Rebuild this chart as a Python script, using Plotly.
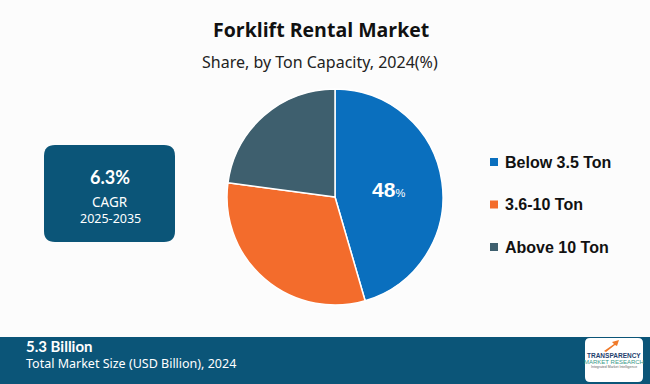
import plotly.graph_objects as go

# ---- data ----
segments = ["Below 3.5 Ton", "3.6-10 Ton", "Above 10 Ton"]
shares = [45.5, 31.6, 22.9]          # slice sizes as drawn
shown_label = ["48", "", ""]          # label printed on the chart
colors = ["#0A6FBE", "#F36C2C", "#3E5F6E"]
title = "Forklift Rental Market"
subtitle = "Share, by Ton Capacity, 2024(%)"
cagr_value = "6.3%"
cagr_period = "2025-2035"
market_size = "5.3 Billion"
market_caption = "Total Market Size (USD Billion), 2024"

W, H = 650, 384
NAVY = "#0B5578"


def px(x):
    return x / W


def py(y):
    return 1 - y / H


def rounded(x0, y0, x1, y1, r):
    pts = [
        f"M {px(x0 + r)},{py(y0)}",
        f"L {px(x1 - r)},{py(y0)}",
        f"Q {px(x1)},{py(y0)} {px(x1)},{py(y0 + r)}",
        f"L {px(x1)},{py(y1 - r)}",
        f"Q {px(x1)},{py(y1)} {px(x1 - r)},{py(y1)}",
        f"L {px(x0 + r)},{py(y1)}",
        f"Q {px(x0)},{py(y1)} {px(x0)},{py(y1 - r)}",
        f"L {px(x0)},{py(y0 + r)}",
        f"Q {px(x0)},{py(y0)} {px(x0 + r)},{py(y0)}",
        "Z",
    ]
    return " ".join(pts)


def note(text, x, y, size, family="Noto Sans", color="white", xanchor="center"):
    return dict(text=text, x=px(x), y=py(y), xref="paper", yref="paper",
                xanchor=xanchor, yanchor="middle", showarrow=False,
                font=dict(family=family, size=size, color=color))


texts = [f"<b>{t}</b><span style='font-size:11px'>%</span>" if t else "" for t in shown_label]

fig = go.Figure(
    go.Pie(
        labels=segments,
        values=shares,
        text=texts,
        textinfo="text",
        textposition="inside",
        insidetextorientation="horizontal",
        textfont=dict(family="Liberation Sans", size=21, color="white"),
        marker=dict(colors=colors, line=dict(color="white", width=1.5)),
        sort=False,
        direction="clockwise",
        rotation=0,
        showlegend=False,
        hoverinfo="label+value",
        domain=dict(x=[px(227), px(443)], y=[py(305), py(89)]),
    )
)

shapes = []
annotations = []

# title & subtitle
annotations.append(note(f"<b>{title}</b>", 321, 29, 19.5, "Open Sans", "#111111"))
annotations.append(note(subtitle, 320, 62, 16, "Noto Sans", "#222222"))

# CAGR box
shapes.append(dict(type="path", path=rounded(44, 145, 175, 242, 11), xref="paper", yref="paper",
                   fillcolor=NAVY, line=dict(width=0), layer="below"))
annotations.append(note(f"<b>{cagr_value}</b>", 110, 177, 18, "Lato"))
annotations.append(note("CAGR", 110, 202, 13.5))
annotations.append(note(cagr_period, 110, 218, 12.5))

# legend (manual, to match row spacing)
for i, (lab, col) in enumerate(zip(segments, colors)):
    yc = 162 + i * 42.5
    shapes.append(dict(type="rect", x0=px(490), x1=px(498), y0=py(yc - 4), y1=py(yc + 4),
                       xref="paper", yref="paper", fillcolor=col, line=dict(width=0)))
    annotations.append(note(f"<b>{lab}</b>", 503, yc, 16, "Liberation Sans", "#111111", "left"))

# bottom band
shapes.append(dict(type="rect", x0=0, x1=1, y0=0, y1=py(337), xref="paper", yref="paper",
                   fillcolor=NAVY, line=dict(width=0), layer="below"))
annotations.append(note(f"<b>{market_size}</b>", 24, 346, 15, "Lato", "white", "left"))
annotations.append(note(market_caption, 24, 363, 12.5, "Noto Sans", "white", "left"))

# logo box
shapes.append(dict(type="path", path=rounded(585, 338, 643, 382, 5), xref="paper", yref="paper",
                   fillcolor="white", line=dict(width=0)))
shapes.append(dict(type="path",
                   path=f"M {px(604)},{py(351)} L {px(614)},{py(344)} L {px(612)},{py(342)} L {px(619)},{py(340)} L {px(617)},{py(346)} L {px(615)},{py(345)} L {px(606)},{py(352)} Z",
                   xref="paper", yref="paper", fillcolor="#F07A2A", line=dict(width=0)))
annotations.append(note("<b>TRANSPARENCY</b>", 614, 355, 6.5, "Liberation Sans", "#1F3F6E"))
annotations.append(note("MARKET RESEARCH", 614, 362, 6, "Liberation Sans", "#3A9A8A"))
annotations.append(note("Integrated Market Intelligence", 614, 367, 3.5, "Liberation Sans", "#666666"))

fig.update_layout(
    width=W, height=H,
    margin=dict(l=0, r=0, t=0, b=0),
    paper_bgcolor="#FCFCFC",
    plot_bgcolor="#FCFCFC",
    shapes=shapes,
    annotations=annotations,
    showlegend=False,
)

fig.write_html(
    "out.html",
    config={"displayModeBar": False},
    post_script="document.body.style.margin='0';document.body.style.overflow='hidden';",
)
